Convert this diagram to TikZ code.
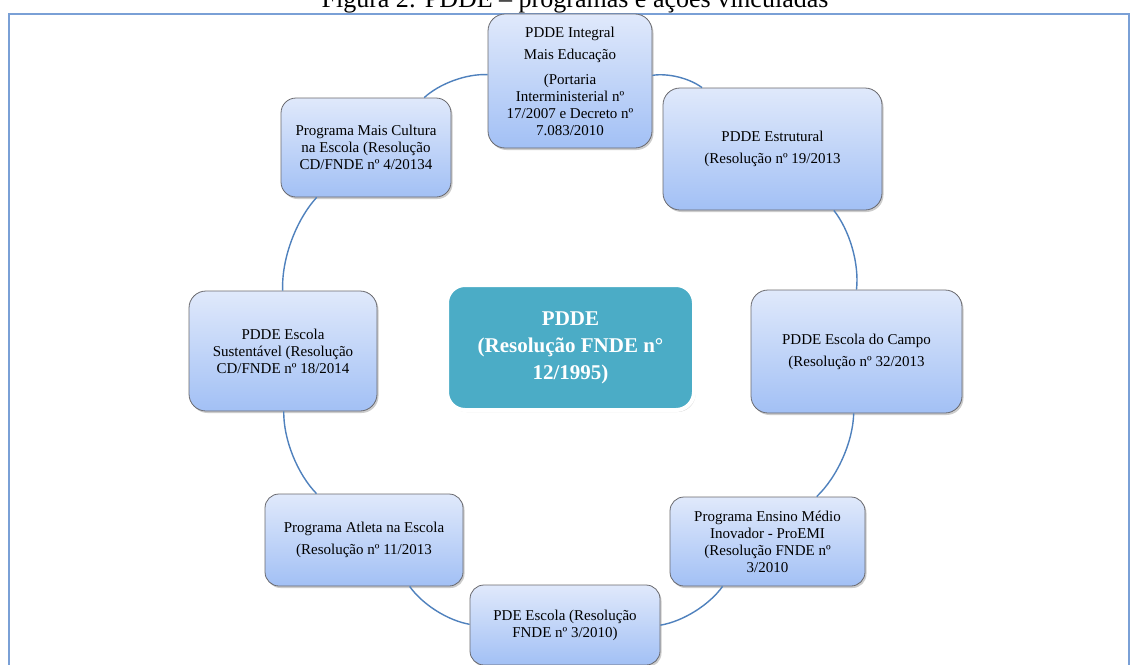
\documentclass[tikz,border=0pt]{standalone}
\usepackage{fontspec}
\setmainfont{Liberation Serif}
\usetikzlibrary{shadows}
\definecolor{frameblue}{RGB}{122,160,214}
\definecolor{ringblue}{RGB}{79,129,189}
\definecolor{boxtop}{RGB}{224,233,251}
\definecolor{boxbot}{RGB}{162,192,245}
\definecolor{boxline}{RGB}{105,105,110}
\definecolor{teal}{RGB}{75,172,198}
\tikzset{
  progbox/.style={draw=boxline, line width=0.8pt, rounded corners=17pt,
    top color=boxtop, bottom color=boxbot, align=center,
    font=\fontsize{15}{17}\selectfont, inner sep=2pt,
    drop shadow={shadow xshift=1.5pt, shadow yshift=-2pt, opacity=0.4}},
  mainbox/.style={draw=white, line width=4pt, rounded corners=18pt, fill=teal,
    text=white, align=center, font=\bfseries\fontsize{21}{27}\selectfont,
    drop shadow={shadow xshift=1.5pt, shadow yshift=-2pt, opacity=0.3}},
  ring/.style={draw=ringblue, line width=1.4pt, bend left=22.5, looseness=0.8}
}
\begin{document}
\begin{tikzpicture}[x=1pt,y=-1pt]
\useasboundingbox (0,0) rectangle (1134,664);
\clip (0,0) rectangle (1134,664);
\fill[white] (0,0) rectangle (1134,664);
\draw[frameblue, line width=2.2pt] (9,720) -- (9,14) -- (1129,14) -- (1129,720);
\node[font=\fontsize{26}{30}\selectfont, anchor=base] (title) at (575,7) {Figura 2: PDDE -- programas e ações vinculadas};

\node[progbox, minimum width=164pt, minimum height=134pt] (int) at (570,81)
  {PDDE Integral\\[5pt]Mais Educação\\[8pt](Portaria\\Interministerial nº\\17/2007 e Decreto nº\\7.083/2010};
\node[progbox, minimum width=219pt, minimum height=122pt] (est) at (772.5,149)
  {PDDE Estrutural\\[5pt](Resolução nº 19/2013};
\node[progbox, minimum width=211pt, minimum height=123pt] (cam) at (856.5,351.5)
  {PDDE Escola do Campo\\[5pt](Resolução nº 32/2013};
\node[progbox, minimum width=195pt, minimum height=89pt, rounded corners=14pt] (pro) at (767.5,541.5)
  {Programa Ensino Médio\\Inovador - ProEMI\\(Resolução FNDE nº\\3/2010};
\node[progbox, minimum width=190pt, minimum height=80pt, rounded corners=14pt] (pde) at (565,625)
  {PDE Escola (Resolução\\FNDE nº 3/2010)};
\node[progbox, minimum width=198pt, minimum height=92pt, rounded corners=14pt] (atl) at (364,540)
  {Programa Atleta na Escola\\[5pt](Resolução nº 11/2013};
\node[progbox, minimum width=188pt, minimum height=120pt] (sus) at (283,351)
  {PDDE Escola\\Sustentável (Resolução\\CD/FNDE nº 18/2014};
\node[progbox, minimum width=170pt, minimum height=99pt, rounded corners=15pt] (cul) at (366,147.5)
  {Programa Mais Cultura\\na Escola (Resolução\\CD/FNDE nº 4/20134};

\node[mainbox, minimum width=247pt, minimum height=125pt] (pdde) at (570.5,347.5)
  {PDDE\\(Resolução FNDE n°\\12/1995)};

\draw[ring] (int) to (est);
\draw[ring] (est) to (cam);
\draw[ring] (cam) to (pro);
\draw[ring] (pro) to (pde);
\draw[ring] (pde) to (atl);
\draw[ring] (atl) to (sus);
\draw[ring] (sus) to (cul);
\draw[ring] (cul) to (int);
\end{tikzpicture}
\end{document}
